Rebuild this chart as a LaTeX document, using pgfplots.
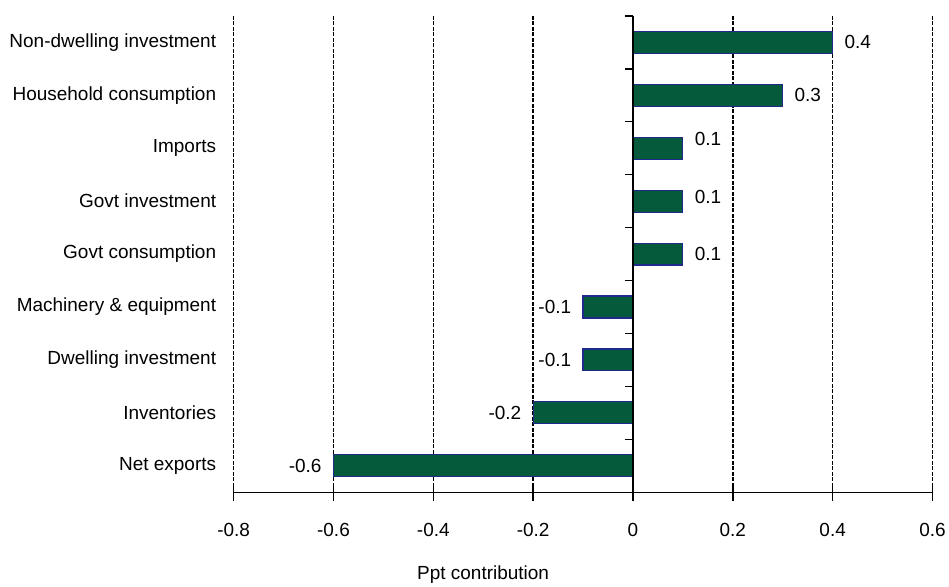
\documentclass[border=0pt]{standalone}
\usepackage{pgfplots}
\pgfplotsset{compat=1.18}
\usepackage{fontspec}
\setmainfont{Liberation Sans}
\definecolor{barfill}{HTML}{055A3C}
\definecolor{baredge}{HTML}{1F2A8A}
\begin{document}
\begin{tikzpicture}[font=\fontsize{19}{21}\selectfont]
\begin{axis}[
  set layers,
  scale only axis, width=700pt, height=477pt,
  xmin=-0.8, xmax=0.6, ymin=-0.5, ymax=8.5,
  clip=false,
  axis x line*=bottom, axis y line*=left,
  y axis line style={draw=none},
  x axis line style={line width=1.4pt, -},
  xtick={-0.8,-0.6,-0.4,-0.2,0,0.2,0.4,0.6},
  xticklabels={-0.8,-0.6,-0.4,-0.2,0,0.2,0.4,0.6},
  xticklabel style={yshift=-19pt},
  tick align=center, major tick length=18pt,
  x tick style={line width=1.4pt, black},
  ytick={0,1,2,3,4,5,6,7,8},
  yticklabels={Net exports, Inventories, Dwelling investment, Machinery \& equipment, Govt consumption, Govt investment, Imports, Household consumption, Non-dwelling investment},
  y tick style={draw=none},
  yticklabel style={xshift=-5pt},
  xmajorgrids,
  major grid style={black, line width=1.6pt, dash pattern=on 4pt off 1.5pt},
  xlabel={Ppt contribution},
  xlabel style={at={(axis description cs:0.357,-0.172)}, anchor=center},
  every axis plot/.append style={xbar, bar width=22pt, bar shift=0pt, fill=barfill, draw=baredge, line width=1.2pt},
  point meta=explicit symbolic,
]
\addplot[nodes near coords, every node near coord/.append style={anchor=west, xshift=8pt, text=black}]
  coordinates {(0.4,8)[0.4] (0.3,7)[0.3] (0.1,4)[0.1]};
\addplot[nodes near coords, every node near coord/.append style={anchor=west, xshift=8pt, yshift=4pt, text=black}]
  coordinates {(0.1,5)[0.1]};
\addplot[nodes near coords, every node near coord/.append style={anchor=west, xshift=8pt, yshift=9pt, text=black}]
  coordinates {(0.1,6)[0.1]};
\addplot[nodes near coords, every node near coord/.append style={anchor=east, xshift=-8pt, text=black}]
  coordinates {(-0.1,3)[-0.1] (-0.1,2)[-0.1] (-0.2,1)[-0.2] (-0.6,0)[-0.6]};
\begin{pgfonlayer}{axis foreground}
\draw[black, line width=1.8pt] (axis cs:0,-0.5) -- (axis cs:0,8.5);
\pgfplotsinvokeforeach{-0.5,0.5,1.5,2.5,3.5,4.5,5.5,6.5,7.5,8.5}{
  \draw[black, line width=1.4pt] (axis cs:0,#1) -- ([xshift=-8pt]axis cs:0,#1);
}
\end{pgfonlayer}
\end{axis}
\path (current axis.south west) ++(-234pt,-92pt) rectangle ++(949pt,585pt);
\end{tikzpicture}
\end{document}
